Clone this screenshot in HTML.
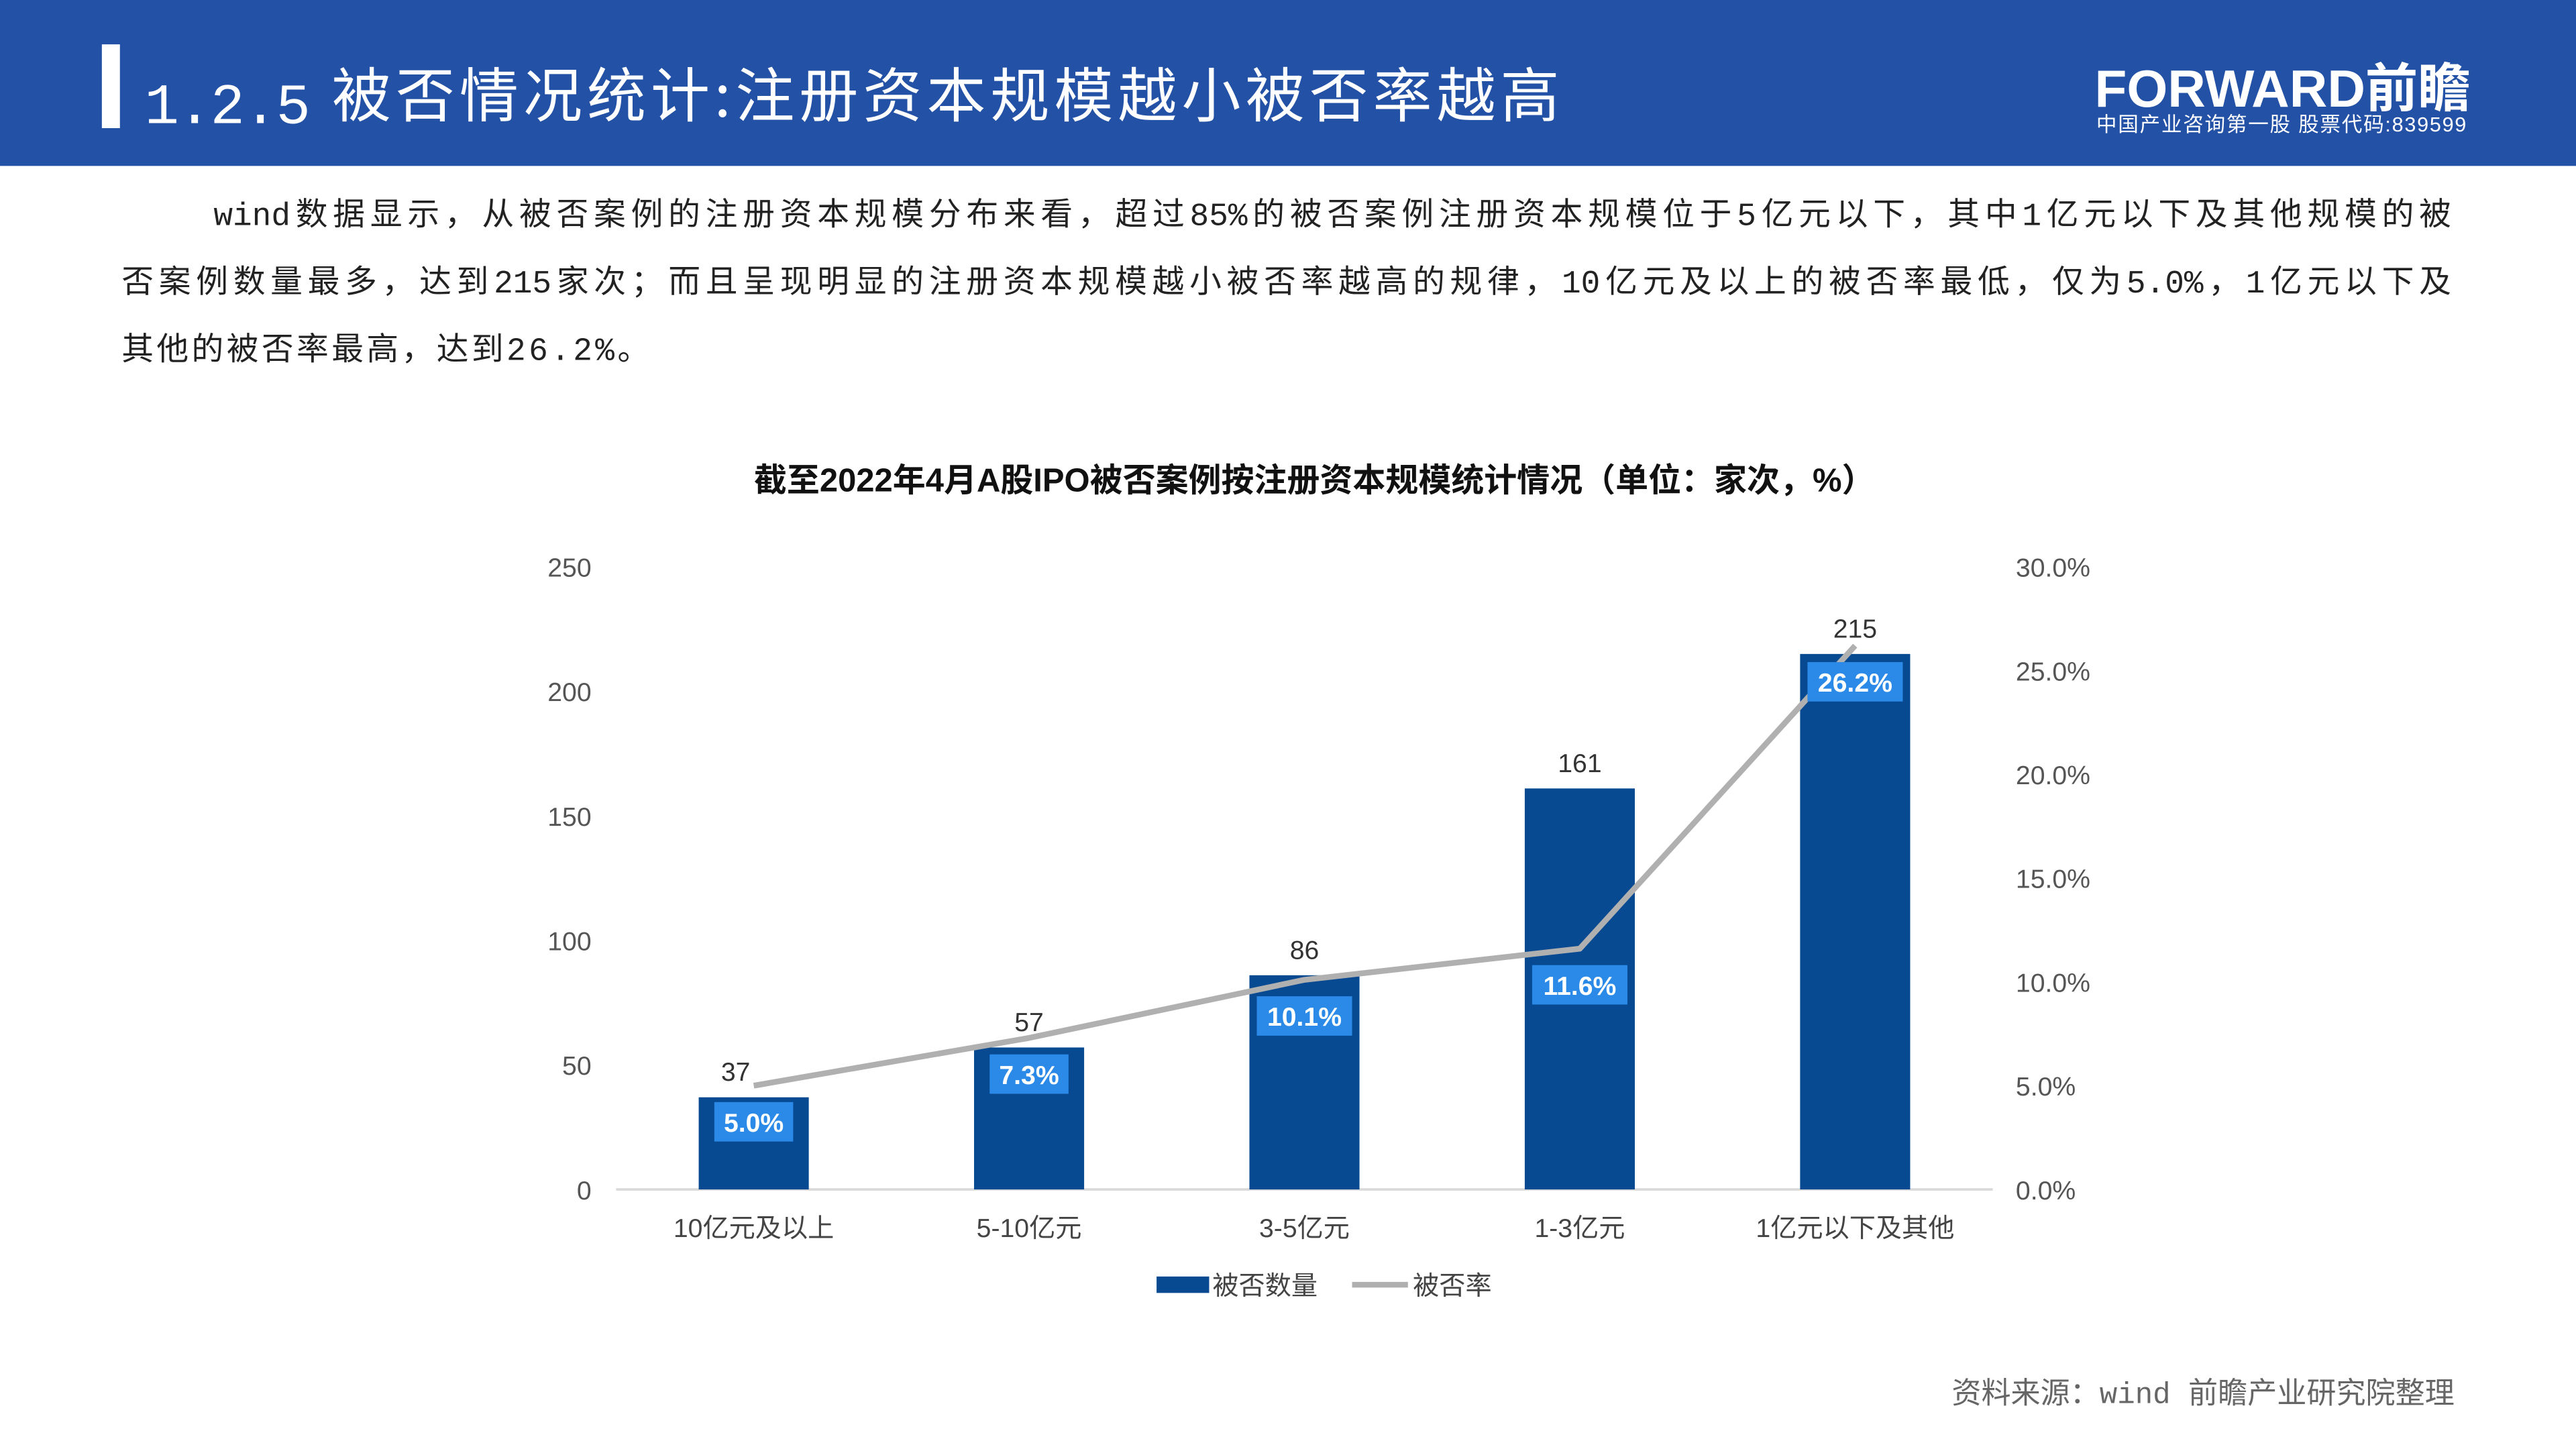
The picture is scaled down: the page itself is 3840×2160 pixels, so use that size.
<!DOCTYPE html>
<html><head><meta charset="utf-8"><style>
html,body{margin:0;padding:0;background:#fff;}
#wrap{width:3840px;height:2160px;overflow:hidden;position:relative;}
#page{width:1568px;height:882px;position:absolute;left:0;top:0;transform:scale(2.4490);transform-origin:0 0;font-family:"Liberation Sans","Noto Sans CJK SC",sans-serif;}
.header{position:absolute;left:0;top:0;width:1568px;height:101px;background:#2351a5;}
.bar{position:absolute;left:62px;top:27px;width:11px;height:51px;background:#fff;}
.title{position:absolute;left:88px;top:34px;font-size:36px;color:#fff;white-space:nowrap;font-family:"Liberation Mono","Noto Sans CJK SC",sans-serif;}
.title .n{letter-spacing:-1px;margin-right:14px;font-size:35px;}
.title .c{letter-spacing:2.8px;font-family:"Noto Sans CJK SC",sans-serif;position:relative;top:-4px;}
.logo{position:absolute;left:1275px;top:29px;font-size:32px;font-weight:bold;color:#fff;white-space:nowrap;}
.slogan{position:absolute;left:1276px;top:65px;font-size:12.5px;color:#fff;white-space:nowrap;letter-spacing:0.7px;}
.para{position:absolute;left:74px;width:1418px;font-size:19.5px;line-height:41px;color:#222;white-space:nowrap;font-family:"Liberation Mono","Noto Sans CJK SC",sans-serif;text-align:justify;text-align-last:justify;}
.src{position:absolute;right:74px;top:834px;font-size:18px;color:#666;white-space:nowrap;font-family:"Liberation Mono","Noto Sans CJK SC",sans-serif;}
</style></head><body>
<div id="wrap"><div id="page">
<div class="header">
<div class="bar"></div>
<div class="title"><span class="n">1.2.5</span><span class="c">被否情况统计:注册资本规模越小被否率越高</span></div>
<div class="logo">FORWARD前瞻</div>
<div class="slogan">中国产业咨询第一股 股票代码:839599</div>
</div>
<div>
<div class="para" style="top:112px;left:130px;width:1362px;">wind数据显示，从被否案例的注册资本规模分布来看，超过85%的被否案例注册资本规模位于5亿元以下，其中1亿元以下及其他规模的被</div>
<div class="para" style="top:153px;">否案例数量最多，达到215家次；而且呈现明显的注册资本规模越小被否率越高的规律，10亿元及以上的被否率最低，仅为5.0%，1亿元以下及</div>
<div class="para" style="top:194px;text-align-last:left;letter-spacing:1.8px;">其他的被否率最高，达到26.2%。</div>
</div>
<svg id="chart" width="1568" height="882" style="position:absolute;left:0;top:0"></svg>
<div class="src">资料来源：wind 前瞻产业研究院整理</div>
</div></div>
<script>
const categories=["10亿元及以上","5-10亿元","3-5亿元","1-3亿元","1亿元以下及其他"];
const counts=[37,57,86,161,215];
const rates=[5.0,7.3,10.1,11.6,26.2];
const leftTicks=[0,50,100,150,200,250];
const rightTicks=[0,5,10,15,20,25,30];
const NS="http://www.w3.org/2000/svg";
const svg=document.getElementById('chart');
const y0=724,y1=345,x0=375,x1=1213;
const yL=v=>y0-(v/250)*(y0-y1);
const yR=v=>y0-(v/30)*(y0-y1);
const step=(x1-x0)/categories.length;
const xC=i=>x0+step*(i+0.5);
function mk(tag,attrs,text){const e=document.createElementNS(NS,tag);for(const k in attrs)e.setAttribute(k,attrs[k]);if(text!==undefined)e.textContent=text;svg.appendChild(e);return e;}
const F='"Liberation Sans","Noto Sans CJK SC",sans-serif';
let t=mk('text',{x:800,y:299,'text-anchor':'middle','font-size':20,'font-weight':'bold',fill:'#111','font-family':F},'截至2022年4月A股IPO被否案例按注册资本规模统计情况（单位：家次，%）');


leftTicks.forEach(v=>{const e=mk('text',{x:360,y:yL(v)+6,'text-anchor':'end','font-size':16,fill:'#555','font-family':F},v);

});
rightTicks.forEach(v=>{const e=mk('text',{x:1227,y:yR(v)+6,'font-size':16,fill:'#555','font-family':F},v.toFixed(1)+'%');

});
let ax=mk('line',{x1:x0,x2:x1,y1:y0,y2:y0,stroke:'#d9d9d9','stroke-width':1.5});


categories.forEach((c,i)=>{
 const b=mk('rect',{x:xC(i)-33.5,y:yL(counts[i]),width:67,height:y0-yL(counts[i]),fill:'#074a91'});
 
 
 const v=mk('text',{x:xC(i)-(i==0?11:0),y:yL(counts[i])-10,'text-anchor':'middle','font-size':16,fill:'#333','font-family':F},counts[i]);
 
 
 const l=mk('text',{x:xC(i),y:y0+29,'text-anchor':'middle','font-size':16,fill:'#444','font-family':F},c);
 
 
});
let pts=rates.map((r,i)=>xC(i)+','+yR(r)).join(' ');
let pl=mk('polyline',{points:pts,fill:'none',stroke:'#b0b0b0','stroke-width':3.5,'stroke-linejoin':'round'});


rates.forEach((r,i)=>{
 const txt=r.toFixed(1)+'%';const w=txt.length>4?58:48;
 const bx=mk('rect',{x:xC(i)-w/2,y:yR(r)+10,width:w,height:24,fill:'#2b8ae8'});
 
 
 const tt=mk('text',{x:xC(i),y:yR(r)+28,'text-anchor':'middle','font-size':16,'font-weight':'bold',fill:'#fff','font-family':F},txt);
 
 
});
let lg1=mk('rect',{x:704,y:777,width:32,height:10,fill:'#074a91'});


let lt1=mk('text',{x:738,y:788,'font-size':16,fill:'#444','font-family':F},'被否数量');


let lg2=mk('line',{x1:823,x2:857,y1:782,y2:782,stroke:'#b0b0b0','stroke-width':3.5});


let lt2=mk('text',{x:860,y:788,'font-size':16,fill:'#444','font-family':F},'被否率');


</script>
</body></html>
